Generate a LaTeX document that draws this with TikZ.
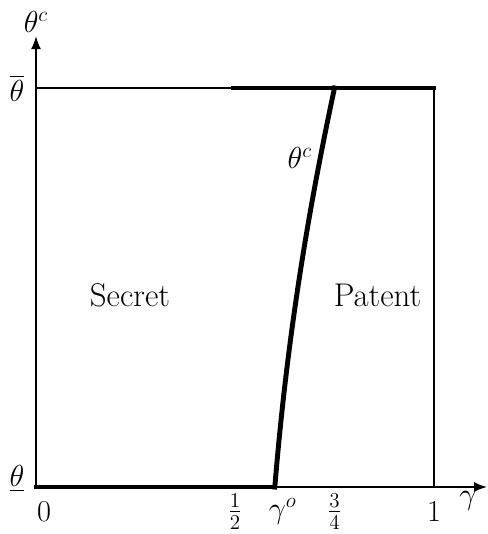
\documentclass[tikz,border=0pt]{standalone}
\usepackage{amsmath,amssymb}
\usepackage{tikz}
\usetikzlibrary{arrows.meta}
\tikzset{
  axisline/.style={-{Latex[length=2.6mm,width=2.0mm]},line width=0.9pt},
  thinline/.style={line width=0.8pt},
  bound/.style={line width=2.8pt,line cap=rect},
  region/.style={font=\fontsize{18.7}{22}\selectfont}
}

\begin{document}
\begin{tikzpicture}[x=7.96cm,y=7.98cm,every node/.style={font=\fontsize{18.2}{22}\selectfont}]
  \useasboundingbox (-0.0905,-0.1178) rectangle (1.1332,1.2206);
  % axes
  \draw[axisline] (0,0)--(0,1.13);
  \draw[axisline] (0,0)--(1.1332,0);
  \node (ylab) at (0.0,1.165){$\theta^c$};
  \node (xlab) at (1.085,-0.035){$\gamma$};
  % box
  \draw[thinline] (0,1)--(1,1)--(1,0);
  % cutoff
  \draw[bound] (0,0)--(0.6,0);
  \draw[bound] (0.495,1)--(1,1);
  \draw[bound] (0.6,0) .. controls (0.633,0.4) and (0.69,0.72) .. (0.75,1);
  \node (curvelab) at (0.663,0.825){$\theta^c$};
  % tick labels
  \node (thtop) at (-0.048,1){$\overline{\theta}$};
  \node (thbot) at (-0.048,0.02){$\underline{\theta}$};
  \node (zero) at (0.02,-0.062){$0$};
  \node (half) at (0.5,-0.062){$\frac{1}{2}$};
  \node (gamo) at (0.62,-0.062){$\gamma^o$};
  \node (quart) at (0.75,-0.062){$\frac{3}{4}$};
  \node (one) at (1,-0.062){$1$};
  % regions
  \node[region] (secret) at (0.236,0.48){Secret};
  \node[region] (patent) at (0.858,0.48){Patent};
\end{tikzpicture}
\end{document}
